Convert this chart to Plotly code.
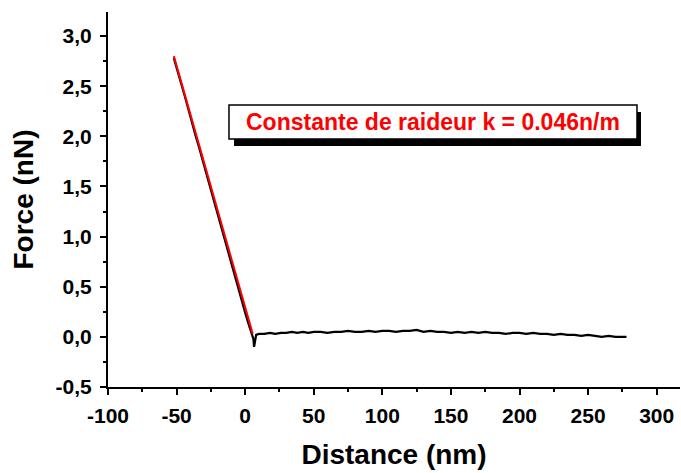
import plotly.graph_objects as go

# Measured force curve (steep contact part + dip + flat part)
dist_nm = [-52, -50, -48, -46, -44, -42, -40, -38, -36, -34, -32, -30, -28, -26, -24, -22, -20,
           -18, -16, -14, -12, -10, -8, -6, -4, -2, 0, 2, 4, 5.5, 6, 6.5, 7, 8, 10,
           14, 18, 22, 26, 30, 34, 38, 42, 46, 50, 55, 60, 65, 70, 75, 80, 85, 90, 95,
           100, 105, 110, 115, 120, 125, 130, 135, 140, 145, 150, 155, 160, 165, 170,
           175, 180, 185, 190, 195, 200, 205, 210, 215, 220, 225, 230, 235, 240, 245,
           250, 255, 260, 265, 270, 275, 278]
force_nN = [2.78, 2.69, 2.59, 2.50, 2.40, 2.30, 2.19, 2.10, 2.00, 1.91, 1.81, 1.71, 1.61, 1.52,
            1.42, 1.32, 1.22, 1.13, 1.03, 0.93, 0.83, 0.73, 0.63, 0.54, 0.44, 0.34, 0.24,
            0.15, 0.07, 0.02, -0.02, -0.10, -0.05, 0.02, 0.03,
            0.03, 0.04, 0.03, 0.04, 0.04, 0.05, 0.04, 0.05, 0.04, 0.05, 0.05, 0.04, 0.05,
            0.05, 0.06, 0.05, 0.05, 0.06, 0.05, 0.06, 0.06, 0.05, 0.06, 0.06, 0.07, 0.05,
            0.06, 0.05, 0.05, 0.04, 0.05, 0.04, 0.05, 0.04, 0.05, 0.04, 0.04, 0.03, 0.04,
            0.04, 0.03, 0.04, 0.03, 0.03, 0.02, 0.03, 0.02, 0.02, 0.01, 0.02, 0.01, 0.00,
            0.01, 0.00, 0.00, 0.00]

# Linear fit (stiffness)
fit_x = [-52, 5.5]
fit_y = [2.80, 0.03]

x_ticks = [-100, -50, 0, 50, 100, 150, 200, 250, 300]
x_ticklabels = ["-100", "-50", "0", "50", "100", "150", "200", "250", "300"]
y_ticks = [-0.5, 0.0, 0.5, 1.0, 1.5, 2.0, 2.5, 3.0]
y_ticklabels = ["-0,5", "0,0", "0,5", "1,0", "1,5", "2,0", "2,5", "3,0"]

annotation_text = "Constante de raideur k = 0.046n/m"

FONT = "Liberation Sans, Arial, sans-serif"

fig = go.Figure()
fig.add_trace(go.Scatter(x=dist_nm, y=force_nN, mode="lines",
                         line=dict(color="black", width=2.2), showlegend=False))
fig.add_trace(go.Scatter(x=fit_x, y=fit_y, mode="lines",
                         line=dict(color="#ff0000", width=2), showlegend=False))

axis_common = dict(
    showgrid=False, zeroline=False, showline=True, linecolor="black", linewidth=2,
    ticks="outside", ticklen=6, tickwidth=2, tickcolor="black", automargin=False,
    tickfont=dict(family=FONT, size=21, color="black", weight="bold"),
)

fig.update_xaxes(
    range=[-100, 317], tickvals=x_ticks, ticktext=x_ticklabels,
    minor=dict(dtick=25, ticks="outside", ticklen=3, tickwidth=2, tickcolor="black"),
    title=dict(text="Distance (nm)", font=dict(family=FONT, size=28, color="black", weight="bold"),
               standoff=18),
    ticklabelstandoff=3,
    anchor="y", **axis_common)
fig.update_yaxes(
    range=[-0.5, 3.24], tickvals=y_ticks, ticktext=y_ticklabels,
    minor=dict(dtick=0.25, ticks="outside", ticklen=3, tickwidth=2, tickcolor="black"),
    title=dict(text="Force (nN)", font=dict(family=FONT, size=28, color="black", weight="bold"),
               standoff=14),
    ticklabelstandoff=4,
    anchor="x", **axis_common)

# Shadowed text box
fig.add_shape(type="rect", xref="paper", yref="paper", x0=0.2203, x1=0.9318, y0=0.6427, y1=0.7333,
              fillcolor="black", line=dict(color="black", width=0), layer="above")
fig.add_shape(type="rect", xref="paper", yref="paper", x0=0.2115, x1=0.9248, y0=0.6613, y1=0.752,
              fillcolor="white", line=dict(color="black", width=1.5), layer="above")
fig.add_annotation(xref="paper", yref="paper", x=0.5681, y=0.7067, text=annotation_text,
                   showarrow=False, xanchor="center", yanchor="middle",
                   font=dict(family=FONT, size=23, color="#ff0000", weight="bold"))

fig.update_layout(
    width=681, height=473,
    margin=dict(l=108, r=1, t=12, b=86),
    paper_bgcolor="white", plot_bgcolor="white",
    font=dict(family=FONT, color="black"),
)

fig.write_html("out.html", config={"displayModeBar": False},
               post_script="document.body.style.margin='0';")
